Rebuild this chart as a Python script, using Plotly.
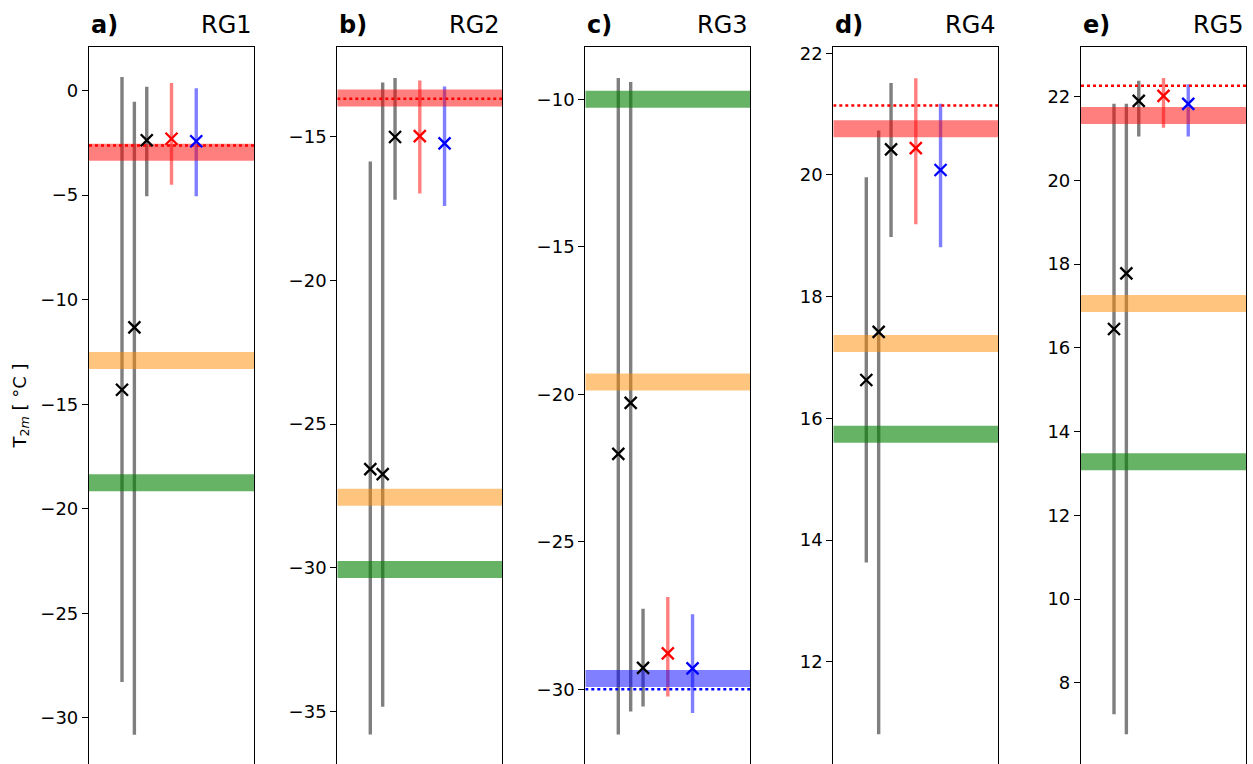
import plotly.graph_objects as go

# Panel labels and region names
panel_labels = ["a)", "b)", "c)", "d)", "e)"]
region_names = ["RG1", "RG2", "RG3", "RG4", "RG5"]

# Horizontal position of each series inside a panel
series_x = [0.2, 0.275, 0.35, 0.5, 0.65]

# Series (mid value, lower end, upper end) for RG1..RG5
mod1_mid = [-14.31, -26.57, -22.02, 16.63, 16.45]
mod1_low = [-28.28, -35.80, -31.53, 13.63, 7.25]
mod1_high = [0.64, -15.86, -9.28, 19.96, 21.83]

mod2_mid = [-11.33, -26.74, -20.29, 17.42, 17.78]
mod2_low = [-30.80, -34.84, -30.75, 10.81, 6.77]
mod2_high = [-0.54, -13.11, -9.41, 20.73, 21.83]

mod3_mid = [-2.38, -15.01, -29.27, 20.42, 21.90]
mod3_low = [-5.06, -17.19, -30.58, 18.98, 21.05]
mod3_high = [0.18, -12.96, -27.27, 21.51, 22.38]

red_mid = [-2.31, -14.98, -28.78, 20.44, 22.02]
red_low = [-4.51, -16.98, -30.24, 19.19, 21.26]
red_high = [0.35, -13.04, -26.87, 21.59, 22.45]

blue_mid = [-2.43, -15.23, -29.29, 20.08, 21.83]
blue_low = [-5.06, -17.41, -30.80, 18.81, 21.05]
blue_high = [0.10, -13.25, -27.45, 21.17, 22.30]

# Reference levels drawn as wide horizontal bands (None = not present)
band_red = [-2.95, -13.65, None, 20.76, 21.55]
band_orange = [-12.91, -27.55, -19.58, 17.23, 17.06]
band_green = [-18.75, -30.06, -10.00, 15.74, 13.28]
band_blue = [None, None, -29.63, None, None]

# Dotted reference lines
dotted_red = [-2.63, -13.68, None, 21.14, 22.26]
dotted_blue = [None, None, -30.00, None, None]

# Axis ranges and ticks per panel
y_ranges = [[-32.2, 2.1], [-36.83, -11.86], [-32.53, -8.21], [10.32, 22.11], [6.06, 23.2]]
y_ticks = [
    [0, -5, -10, -15, -20, -25, -30],
    [-15, -20, -25, -30, -35],
    [-10, -15, -20, -25, -30],
    [12, 14, 16, 18, 20, 22],
    [8, 10, 12, 14, 16, 18, 20, 22],
]

W, H = 1253, 764
panel_left = [89, 337.3, 585.3, 833.3, 1081]
panel_width = 165
plot_top = 46.5

FONT = "DejaVu Sans"

fig = go.Figure()

series = [
    (mod1_mid, mod1_low, mod1_high, "rgba(0,0,0,0.5)", "black"),
    (mod2_mid, mod2_low, mod2_high, "rgba(0,0,0,0.5)", "black"),
    (mod3_mid, mod3_low, mod3_high, "rgba(0,0,0,0.5)", "black"),
    (red_mid, red_low, red_high, "rgba(255,0,0,0.5)", "red"),
    (blue_mid, blue_low, blue_high, "rgba(0,0,255,0.5)", "blue"),
]

bands = [
    (band_red, "rgba(255,0,0,0.5)"),
    (band_orange, "rgba(255,140,0,0.5)"),
    (band_green, "rgba(0,128,0,0.6)"),
    (band_blue, "rgba(0,0,255,0.5)"),
]

dotted = [(dotted_red, "red"), (dotted_blue, "blue")]

for p in range(5):
    sfx = "" if p == 0 else str(p + 1)
    xa, ya = "x" + sfx, "y" + sfx

    # vertical range bars
    for k, (mid, low, high, bar_col, _) in enumerate(series):
        fig.add_trace(go.Scatter(
            x=[series_x[k]], y=[mid[p]], mode="markers",
            marker=dict(size=1, opacity=0),
            error_y=dict(type="data", symmetric=False,
                         array=[high[p] - mid[p]], arrayminus=[mid[p] - low[p]],
                         color=bar_col, thickness=3.4, width=0),
            xaxis=xa, yaxis=ya, showlegend=False, hoverinfo="skip"))

    # horizontal bands
    for vals, col in bands:
        if vals[p] is not None:
            fig.add_trace(go.Scatter(
                x=[0, 1], y=[vals[p], vals[p]], mode="lines",
                line=dict(color=col, width=17),
                xaxis=xa, yaxis=ya, showlegend=False, hoverinfo="skip"))

    # dotted reference lines
    for vals, col in dotted:
        if vals[p] is not None:
            fig.add_trace(go.Scatter(
                x=[0, 1], y=[vals[p], vals[p]], mode="lines",
                line=dict(color=col, width=2.5, dash="dot"),
                xaxis=xa, yaxis=ya, showlegend=False, hoverinfo="skip"))

    # central values
    for k, (mid, low, high, _, mk_col) in enumerate(series):
        fig.add_trace(go.Scatter(
            x=[series_x[k]], y=[mid[p]], mode="markers",
            marker=dict(symbol="x-thin", size=12, color=mk_col,
                        line=dict(color=mk_col, width=2.3)),
            xaxis=xa, yaxis=ya, showlegend=False, hoverinfo="skip"))

    x0 = panel_left[p] / W
    x1 = (panel_left[p] + panel_width) / W
    fig.update_layout(**{
        "xaxis" + sfx: dict(domain=[x0, x1], range=[0, 1], anchor=ya,
                            showticklabels=False, ticks="", showgrid=False,
                            zeroline=False, showline=True, side="top",
                            linecolor="black", linewidth=1.2, fixedrange=True,
                            automargin=False),
        "yaxis" + sfx: dict(domain=[0, 1 - plot_top / H], range=y_ranges[p],
                            anchor=xa, tickvals=y_ticks[p], ticks="outside",
                            ticklen=6, tickwidth=1.2, tickcolor="black",
                            showgrid=False, zeroline=False, showline=True,
                            mirror=True, linecolor="black", linewidth=1.2,
                            tickfont=dict(family=FONT, size=18, color="black"),
                            fixedrange=True, automargin=False),
    })

    # panel titles
    fig.add_annotation(text="<b>" + panel_labels[p] + "</b>", xref="paper", yref="paper",
                       x=x0, y=1 - 25 / H, xanchor="left", yanchor="middle",
                       showarrow=False, font=dict(family=FONT, size=24, color="black"))
    fig.add_annotation(text=region_names[p], xref="paper", yref="paper",
                       x=x1, y=1 - 25 / H, xanchor="right", yanchor="middle",
                       showarrow=False, font=dict(family=FONT, size=24, color="black"))

# shared y-axis label
fig.add_annotation(text="T<sub>2<i>m</i></sub> [ °C ]", xref="paper", yref="paper",
                   x=20.5 / W, y=1 - 406 / H, xanchor="center", yanchor="middle",
                   textangle=-90, showarrow=False,
                   font=dict(family=FONT, size=18, color="black"))

fig.update_layout(width=W, height=H, autosize=False,
                  margin=dict(l=0, r=0, t=0, b=0, autoexpand=False),
                  paper_bgcolor="white", plot_bgcolor="white",
                  showlegend=False)

fig.write_html("out.html")
